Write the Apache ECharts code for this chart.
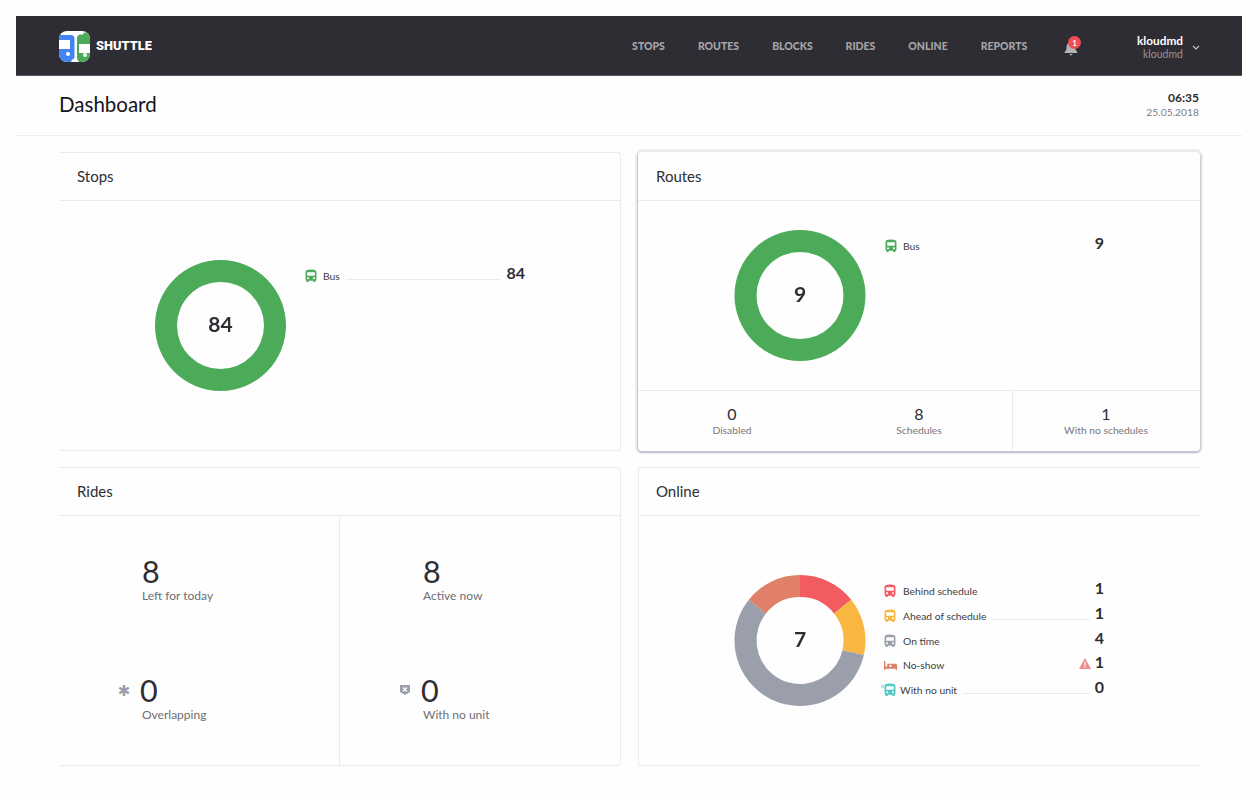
<!DOCTYPE html>
<html>
<head>
<meta charset="utf-8">
<title>Dashboard</title>
<script src="https://cdn.jsdelivr.net/npm/echarts@6/dist/echarts.min.js"></script>
<style>
  html, body { margin: 0; padding: 0; background: #fff; overflow: hidden; }
  #page { position: relative; width: 1257px; height: 793px; font-family: Lato, "Open Sans", sans-serif; color: #2e2d33; background: #fefefe; }
  .abs { position: absolute; }
  .t { position: absolute; white-space: nowrap; line-height: 1; transform: translateY(-50%); }
  .t.c { transform: translate(-50%, -50%); }
  .t.r { transform: translate(-100%, -50%); }
  .card { position: absolute; box-sizing: border-box; background: #fefefe; border: 1px solid #e9ecee; border-left: none; border-radius: 0 4px 4px 0; }
  .line { position: absolute; background: #e8eaec; height: 1px; }
  .vline { position: absolute; background: #e8eaec; width: 1px; }
  .chart { position: absolute; }
</style>
</head>
<body>
<div id="page"></div>
<script>
const page = document.getElementById("page");

const GREEN = "#4cab59";
const busPath = "M2 3.2C2 1.2 4 .5 7 .5s5 .7 5 2.7v8c0 .6-.3 1-.8 1.2v1c0 .4-.3.6-.6.6h-.9c-.4 0-.6-.2-.6-.6v-.8H4.900v.8c0 .4-.2.6-.6.6h-.9c-.3 0-.6-.2-.6-.6v-1c-.5-.2-.8-.6-.8-1.200zM3.500 3.600v3.600h7V3.600zM4.300 9a1 1 0 1 0 0 2 1 1 0 0 0 0-2zm5.400 0a1 1 0 1 0 0 2 1 1 0 0 0 0-2z";

const addText = (text, x, y, size, color, opt = {}) => {
  const el = document.createElement("div");
  el.className = "t " + (opt.align || "");
  el.textContent = text;
  el.style.cssText = `left:${x}px;top:${y}px;font-size:${size}px;color:${color};font-weight:${opt.weight || 400};${opt.family ? "font-family:" + opt.family + ";" : ""}`;
  page.appendChild(el);
};
const addLine = (x1, x2, y, color) => {
  const el = document.createElement("div");
  el.className = "line";
  el.style.cssText = `left:${x1}px;top:${y}px;width:${x2 - x1}px;${color ? "background:" + color : ""}`;
  page.appendChild(el);
};
const addVline = (x, y1, y2) => {
  const el = document.createElement("div");
  el.className = "vline";
  el.style.cssText = `left:${x}px;top:${y1}px;height:${y2 - y1}px`;
  page.appendChild(el);
};
const addSvg = (inner, x, y, w, h, vb) => {
  const el = document.createElement("div");
  el.className = "abs";
  el.style.cssText = `left:${x}px;top:${y}px;width:${w}px;height:${h}px`;
  el.innerHTML = `<svg width="${w}" height="${h}" viewBox="${vb}" preserveAspectRatio="none" style="display:block">${inner}</svg>`;
  page.appendChild(el);
};
const addBus = (cx, cy, color) =>
  addSvg(`<path fill="${color}" fill-rule="evenodd" d="${busPath}"/>`, cx - 6, cy - 6.5, 12, 13, "1.500 0 11 14");
const addBed = (cx, cy, color) =>
  addSvg(`<path fill="${color}" d="M0 0h1.500v6h2V3h9c.8 0 1.500.7 1.500 1.500V10h-1.500V8.500h-11V10H0z"/><path d="M7 4v3M5.500 5.500h3" stroke="#fff" stroke-width="1"/>`, cx - 6.5, cy - 4.5, 13, 9, "0 0 14 10");

// navbar
const nav = document.createElement("div");
nav.className = "abs";
nav.style.cssText = "left:16px;top:16px;width:1226px;height:60px;background:#2e2d33;box-sizing:border-box;border-bottom:1px solid #55555b";
page.appendChild(nav);

addSvg(`<defs><clipPath id="lg"><rect x="0" y="0" width="31" height="31" rx="8"/></clipPath></defs>
  <g clip-path="url(#lg)"><rect width="31" height="31" fill="#fff"/>
  <path d="M0 4h12c2 0 3.500 1.500 3.500 3.500V26c0 1.500-1 2.500-2.500 2.500l-1 2.500H0z" fill="#4285f0"/>
  <rect x="0" y="9" width="11" height="9" fill="#fff"/><circle cx="9" cy="23" r="2" fill="#fff"/>
  <path d="M18 28V7c0-2 1.500-3.500 3.500-3.500H24l1-2h6V31H20z" fill="#4cab59"/>
  <rect x="20" y="13" width="11" height="9" fill="#fff"/><circle cx="26" cy="24" r="2" fill="#fff"/>
  </g>`, 59, 31, 31, 31, "0 0 31 31");
addText("SHUTTLE", 96, 46, 12.8, "#fff", { weight: 900, family: "Roboto" });

const navItems = [
  ["STOPS", 648.5], ["ROUTES", 718.5], ["BLOCKS", 792.5],
  ["RIDES", 860.5], ["ONLINE", 928], ["REPORTS", 1004],
];
navItems.forEach(([name, x]) => addText(name, x, 46, 10.5, "#a5a5a9", { align: "c", weight: 900 }));

addSvg(`<path fill="#b4b4b8" d="M7 1.500c.8 0 1.200.5 1.200 1.100C10.600 3.200 11.500 5 11.500 7.500c0 2.600.8 3.700 1.800 4.600v.9H.7v-.9c1-.9 1.800-2 1.800-4.600 0-2.500.9-4.300 3.300-4.900C5.800 2 6.200 1.500 7 1.500zM5.500 14h3c0 .8-.7 1.300-1.500 1.300S5.500 14.800 5.500 14z"/>`, 1064, 40, 14, 16, "0 0 14 16");
addSvg(`<circle cx="6.500" cy="6.500" r="6.500" fill="#ee4f55"/>`, 1068, 36, 13, 13, "0 0 13 13");
addText("1", 1074.5, 42.5, 8, "#fff", { align: "c", weight: 700 });

addText("kloudmd", 1183, 41, 11.8, "#fff", { align: "r", weight: 700 });
addText("kloudmd", 1183, 54, 10.5, "#94949a", { align: "r" });
addSvg(`<path d="M1 1l3 3 3-3" fill="none" stroke="#c4c4c8" stroke-width="1.200"/>`, 1192, 45, 8, 6, "0 0 8 6");

// page title
addText("Dashboard", 59, 103.5, 20.5, "#15151a");
addText("06:35", 1199, 98, 12, "#2e2d33", { align: "r", weight: 700 });
addText("25.05.2018", 1199, 111.5, 10.3, "#808085", { align: "r" });
addLine(16, 1242, 135, "#eceef0");

// cards
const cards = [
  { title: "Stops", x: 59, y: 152, w: 562, h: 299, headY: 200 },
  { title: "Routes", x: 638, y: 152, w: 562, h: 299, headY: 200, raised: true },
  { title: "Rides", x: 59, y: 467, w: 562, h: 299, headY: 515 },
  { title: "Online", x: 638, y: 467, w: 562, h: 299, headY: 515, noRight: true },
];
cards.forEach((c) => {
  const el = document.createElement("div");
  el.className = "card";
  el.style.cssText = `left:${c.x}px;top:${c.y}px;width:${c.w}px;height:${c.h}px;`;
  if (c.raised) el.style.cssText += "border:none;border-radius:4px;box-shadow:0 1px 1px 1px #c2c7cf,0 0 0 3px #eceef2;";
  if (c.noRight) el.style.cssText += "border-right:none;border-left:1px solid #e9ecee;border-radius:0;";
  page.appendChild(el);
  addLine(c.x, c.x + c.w, c.headY);
  addText(c.title, c.x + 18, c.y + 24, 15, "#2e2d33");
});

// donuts
const donuts = [
  { id: "stops", cx: 220.5, cy: 325.5, total: "84", data: [{ name: "Bus", value: 84, color: GREEN }] },
  { id: "routes", cx: 800, cy: 295.5, total: "9", data: [{ name: "Bus", value: 9, color: GREEN }] },
  {
    id: "online", cx: 800, cy: 640.5, total: "7",
    data: [
      { name: "Behind schedule", value: 1, color: "#f25c61" },
      { name: "Ahead of schedule", value: 1, color: "#f9b741" },
      { name: "On time", value: 4, color: "#9a9fab" },
      { name: "No-show", value: 1, color: "#e08068" },
    ],
  },
];
donuts.forEach((d) => {
  const size = 160;
  const el = document.createElement("div");
  el.className = "chart";
  el.style.cssText = `left:${Math.floor(d.cx - size / 2)}px;top:${Math.floor(d.cy - size / 2)}px;width:${size}px;height:${size}px`;
  page.appendChild(el);
  const chart = echarts.init(el);
  chart.setOption({
    animation: false,
    series: [
      {
        type: "pie",
        center: [d.cx - Math.floor(d.cx - size / 2), d.cy - Math.floor(d.cy - size / 2)],
        radius: [43.5, 65.5],
        startAngle: 90,
        silent: true,
        label: {
          show: true,
          position: "center",
          formatter: d.total,
          fontFamily: "Lato",
          fontSize: 21,
          fontWeight: 700,
          color: "#2e2d33",
        },
        labelLine: { show: false },
        data: d.data.map((o) => ({ name: o.name, value: o.value, itemStyle: { color: o.color } })),
      },
    ],
  });
});

// stops legend
addBus(311, 275, GREEN);
addText("Bus", 323, 276, 10.3, "#3d3d42");
addLine(346, 501, 279);
addText("84", 525, 273, 16, "#2e2d33", { align: "r", weight: 700 });

// routes legend + footer
addBus(890.5, 245, GREEN);
addText("Bus", 903, 246, 10.3, "#3d3d42");
addText("9", 1104, 243, 16, "#2e2d33", { align: "r", weight: 700 });
addLine(638, 1200, 390);
addVline(1012, 390, 450);
[
  { value: 0, label: "Disabled", x: 732 },
  { value: 8, label: "Schedules", x: 919 },
  { value: 1, label: "With no schedules", x: 1106 },
].forEach((s) => {
  addText(String(s.value), s.x, 414, 16, "#2e2d33", { align: "c" });
  addText(s.label, s.x, 429.5, 10.3, "#77777c", { align: "c" });
});

// rides stats
addVline(339, 516, 765);
[
  { value: 8, label: "Left for today", x: 142, y: 571, ly: 595.5 },
  { value: 8, label: "Active now", x: 423, y: 571, ly: 595.5 },
  { value: 0, label: "Overlapping", x: 140, y: 689.5, ly: 714.5, lx: 142 },
  { value: 0, label: "With no unit", x: 421, y: 689.5, ly: 714.5, lx: 423 },
].forEach((s) => {
  addText(String(s.value), s.x, s.y, 30.5, "#2e2d33");
  addText(s.label, s.lx || s.x, s.ly, 12, "#6e6e74");
});
addText("✱", 124, 691, 15, "#9a9fab", { align: "c", family: "DejaVu Sans" });
addSvg(`<path fill="#9a9fab" d="M0 0h10v7l-5 3-5-3z"/><path d="M3 2.500l4 4M7 2.500l-4 4" stroke="#fff" stroke-width="1.200"/>`, 400, 685, 10, 10, "0 0 10 10");

// online legend
const onlineRows = [
  { name: "Behind schedule", value: 1, color: "#f25c61", y: 591, vy: 588 },
  { name: "Ahead of schedule", value: 1, color: "#f9b741", y: 616, vy: 613 },
  { name: "On time", value: 4, color: "#9a9fab", y: 640.5, vy: 637.5 },
  { name: "No-show", value: 1, color: "#e08068", y: 665, vy: 662, bed: true },
  { name: "With no unit", value: 0, color: "#4fc9c4", y: 690, vy: 686.5, x: 900 },
];
onlineRows.forEach((r) => {
  if (r.bed) addBed(890, r.y, r.color);
  else addBus(890, r.y - 0.5, r.color);
  addText(r.name, r.x || 903, r.y, 10.3, "#3d3d42");
  addText(String(r.value), 1104, r.vy, 16, "#2e2d33", { align: "r", weight: 700 });
});
addLine(991, 1090, 619);
addLine(962, 1090, 693);
addText("×", 882.5, 686, 8, "#4fc9c4", { align: "c" });
addSvg(`<path fill="#ef8c8c" d="M6 0l6 10.500H0z"/><rect x="5.400" y="3.500" width="1.200" height="4" fill="#fff"/><rect x="5.400" y="8.200" width="1.200" height="1.200" fill="#fff"/>`, 1079, 658, 12, 11, "0 0 12 10.500");
</script>
</body>
</html>
